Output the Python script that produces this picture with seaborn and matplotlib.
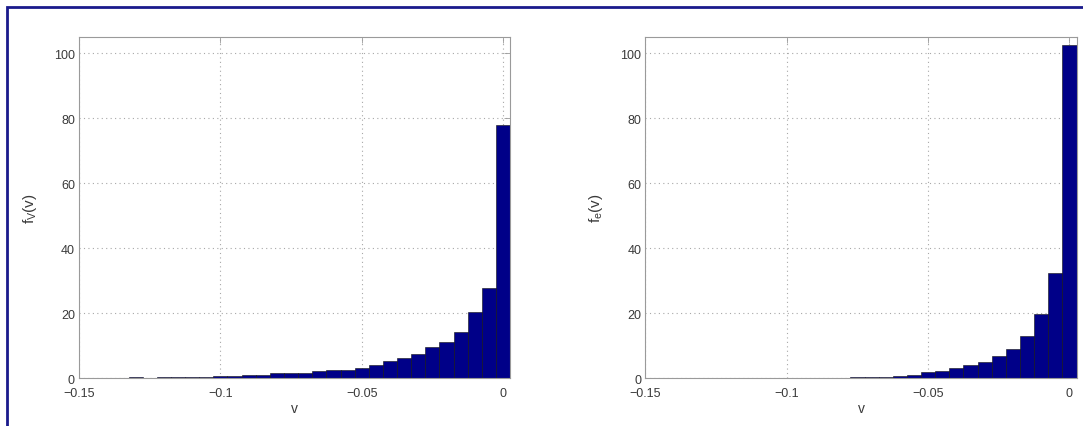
import numpy as np
import matplotlib
matplotlib.use("Agg")
import matplotlib.pyplot as plt
from matplotlib.patches import Rectangle
import seaborn as sns

# ── Data ──────────────────────────────────────────
bin_centers = [-0.150, -0.145, -0.140, -0.135, -0.130, -0.125, -0.120, -0.115,
               -0.110, -0.105, -0.100, -0.095, -0.090, -0.085, -0.080, -0.075,
               -0.070, -0.065, -0.060, -0.055, -0.050, -0.045, -0.040, -0.035,
               -0.030, -0.025, -0.020, -0.015, -0.010, -0.005, 0.000]
bin_width = 0.005

fv_heights = [0.1, 0.1, 0.1, 0.1, 0.5, 0.2, 0.4, 0.3,
              0.5, 0.5, 0.6, 0.8, 0.9, 1.1, 1.5, 1.7,
              1.5, 2.1, 2.4, 2.6, 3.1, 4.0, 5.4, 6.3,
              7.3, 9.5, 11.2, 14.2, 20.3, 27.7, 78.0]

fe_heights = [0.0, 0.0, 0.0, 0.0, 0.0, 0.0, 0.0, 0.0,
              0.0, 0.0, 0.0, 0.0, 0.0, 0.0, 0.0, 0.3,
              0.35, 0.5, 0.7, 1.0, 1.8, 2.2, 3.1, 4.0,
              5.1, 6.8, 9.1, 13.0, 19.8, 32.3, 102.4]

panels = [
    (fv_heights, r"$\mathregular{f_V(v)}$", [0.073, 0.112, 0.398, 0.799]),
    (fe_heights, r"$\mathregular{f_e(v)}$", [0.596, 0.112, 0.398, 0.799]),
]

x_ticks = [-0.15, -0.1, -0.05, 0]
x_ticklabels = ["\u22120.15", "\u22120.1", "\u22120.05", "0"]
y_ticks = [0, 20, 40, 60, 80, 100]

# ── Style ─────────────────────────────────────────
sns.set_style("white")
plt.rcParams["font.family"] = ["Liberation Sans", "DejaVu Sans"]
plt.rcParams["mathtext.fontset"] = "custom"
plt.rcParams["mathtext.rm"] = "Liberation Sans"
plt.rcParams["mathtext.it"] = "Liberation Sans"

text_color = "#3a3a3a"
spine_color = "#9a9a9a"
bar_color = "#000088"

fig = plt.figure(figsize=(10.83, 4.27), dpi=100)
# frame round the picture: left and top edges only show
fig.patches.append(Rectangle((6.5 / 1083, -0.05), 1.1, 1.0 - 7.5 / 427 + 0.05,
                             transform=fig.transFigure, fill=False,
                             edgecolor="#1a1a8c", linewidth=2.0))

lo = bin_centers[0] - bin_width / 2
hi = bin_centers[-1] + bin_width / 2

for heights, ylab, pos in panels:
    ax = fig.add_axes(pos)
    sns.histplot(x=bin_centers, weights=heights, bins=len(bin_centers),
                 binrange=(lo, hi), color=bar_color, edgecolor="#101010",
                 linewidth=0.4, alpha=1.0, ax=ax)
    ax.set_xlim(-0.15, 0.0025)
    ax.set_ylim(0, 105)
    ax.set_xticks(x_ticks)
    ax.set_xticklabels(x_ticklabels)
    ax.set_yticks(y_ticks)
    ax.grid(True, linestyle=(0, (1, 3)), color="#a8a8a8", linewidth=0.8)
    ax.set_axisbelow(True)
    ax.tick_params(axis="both", direction="in", length=4, width=0.6,
                   colors=spine_color, labelcolor=text_color, labelsize=9,
                   top=True, right=True)
    ax.tick_params(axis="x", pad=6)
    ax.tick_params(axis="y", pad=3)
    for s in ax.spines.values():
        s.set_color(spine_color)
        s.set_linewidth(0.8)
    ax.set_xlabel("v", fontsize=10, color=text_color, labelpad=2)
    ax.set_ylabel(ylab, fontsize=11, color=text_color, labelpad=11)

fig.savefig("out.png", dpi=100)
